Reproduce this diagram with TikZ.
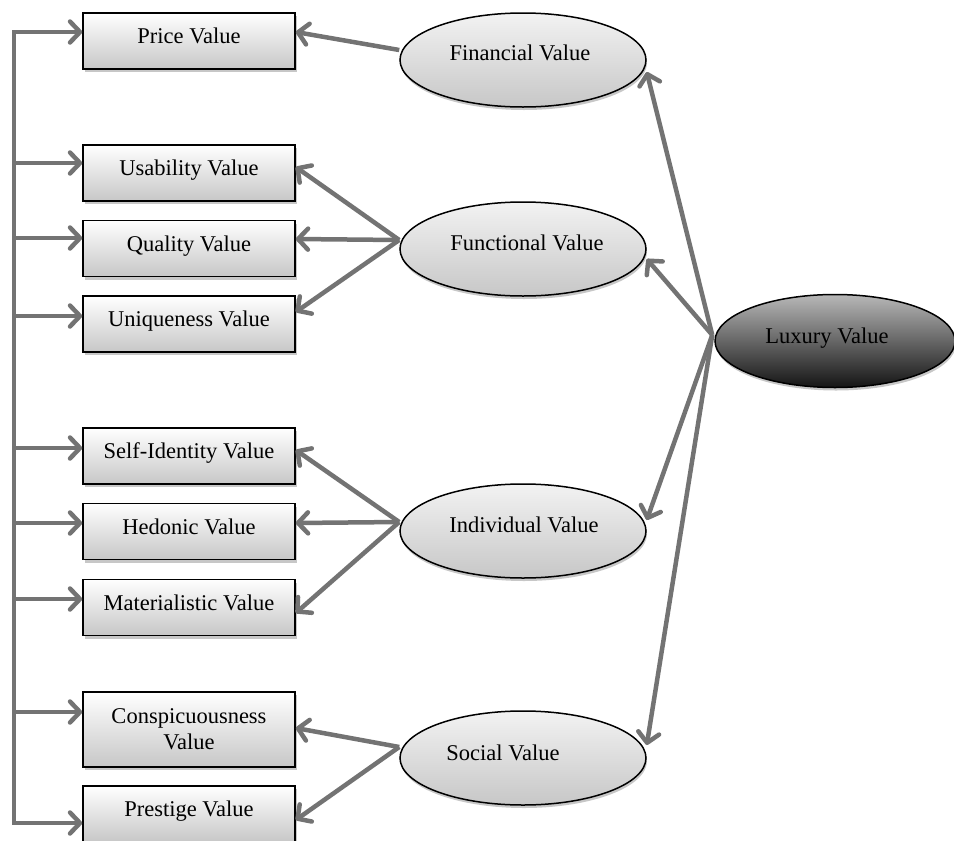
\documentclass[tikz,border=0pt]{standalone}
\usepackage{fontspec}
\setmainfont{Liberation Serif}
\usetikzlibrary{arrows.meta,shadows,shapes.geometric}
\begin{document}
\begin{tikzpicture}[x=1pt,y=-1pt,
  every node/.style={font=\fontsize{22.5}{26}\selectfont},
  boxbase/.style={draw=black, line width=1.5pt, rectangle, minimum width=212pt,
    minimum height=56pt, inner sep=0pt, top color=white, bottom color=black!22,
    drop shadow={shadow xshift=2pt, shadow yshift=-3pt, opacity=0.22, fill=black}},
  valbox/.style={boxbase, text height=15pt, text depth=10pt},
  dimbase/.style={draw=black, line width=1.5pt, ellipse, inner sep=0pt,
    drop shadow={shadow xshift=1pt, shadow yshift=-3pt, opacity=0.22, fill=black}},
  dim/.style={dimbase, minimum width=246pt, minimum height=94pt,
    top color=black!5, bottom color=black!22},
  core/.style={dimbase, minimum width=240pt, minimum height=93pt,
    top color=black!28, bottom color=black!92},
  link/.style={draw=black!55, line width=4.5pt},
  arr/.style={link, -{Straight Barb[length=10pt,width=21pt,round]}}]

\useasboundingbox (0,0) rectangle (954,841);

% value boxes on the left
\node[valbox] (price) at (189,41)    {Price Value};
\node[valbox] (usab)  at (189,173)   {Usability Value};
\node[valbox] (qual)  at (189,248.5) {Quality Value};
\node[valbox] (uniq)  at (189,324)   {Uniqueness Value};
\node[valbox] (self)  at (189,456)   {Self-Identity Value};
\node[valbox] (hedo)  at (189,531.5) {Hedonic Value};
\node[valbox] (mate)  at (189,607.5) {Materialistic Value};
\node[boxbase, minimum height=75pt, align=center] (consp) at (189,729.5) {Conspicuousness\\Value};
\node[valbox] (prest) at (189,814)   {Prestige Value};

% value dimensions
\node[dim, label={[shift={(-3pt,7pt)}]center:Financial Value}]  (fin)  at (523,60)  {};
\node[dim, label={[shift={(4pt,6pt)}]center:Functional Value}]  (func) at (523,249) {};
\node[dim, label={[shift={(1pt,6pt)}]center:Individual Value}]  (indi) at (523,531) {};
\node[dim, label={[shift={(-20pt,5pt)}]center:Social Value}]    (soc)  at (523,758) {};
\node[core, label={[shift={(-8pt,3pt)}]center:Luxury Value}]    (lux)  at (835,341) {};

% feedback bus on the far left
\coordinate (bus) at (14,0);
\coordinate (price-in) at ([yshift=9pt]price.west);
\coordinate (usab-in)  at ([yshift=10pt]usab.west);
\coordinate (qual-in)  at ([yshift=10.5pt]qual.west);
\coordinate (uniq-in)  at ([yshift=8pt]uniq.west);
\coordinate (self-in)  at ([yshift=8pt]self.west);
\coordinate (hedo-in)  at ([yshift=8.5pt]hedo.west);
\coordinate (mate-in)  at ([yshift=8.5pt]mate.west);
\coordinate (consp-in) at ([yshift=17.5pt]consp.west);
\coordinate (prest-in) at ([yshift=-9pt]prest.west);

\draw[link, line cap=rect] (bus |- price-in) -- (bus |- prest-in);
\foreach \b in {price,usab,qual,uniq,self,hedo,mate,consp,prest}
  \draw[arr] (bus |- \b-in) -- (\b-in);

% dimensions to their value boxes
\coordinate (fin-out)  at ([yshift=10pt]fin.west);
\coordinate (func-out) at ([yshift=9pt]func.west);
\coordinate (indi-out) at ([yshift=9pt]indi.west);
\coordinate (soc-out)  at ([yshift=11pt]soc.west);

\draw[arr] (fin-out)  -- ([yshift=9pt]price.east);
\draw[arr] (func-out) -- ([yshift=6pt]usab.east);
\draw[arr] (func-out) -- ([yshift=9.5pt]qual.east);
\draw[arr] (func-out) -- ([yshift=12pt]uniq.east);
\draw[arr] (indi-out) -- ([yshift=6pt]self.east);
\draw[arr] (indi-out) -- ([yshift=8.5pt]hedo.east);
\draw[arr] (indi-out) -- ([yshift=-5.5pt]mate.east);
\draw[arr] (soc-out)  -- ([yshift=1.5pt]consp.east);
\draw[arr] (soc-out)  -- ([yshift=-6pt]prest.east);

% luxury value to its dimensions
\coordinate (lux-out) at ([shift={(-2pt,6pt)}]lux.west);
\draw[arr] (lux-out) -- ([yshift=-12pt]fin.east);
\draw[arr] (lux-out) -- ([yshift=-10pt]func.east);
\draw[arr] (lux-out) -- ([yshift=11pt]indi.east);
\draw[arr] (lux-out) -- ([yshift=13pt]soc.east);
\end{tikzpicture}
\end{document}
